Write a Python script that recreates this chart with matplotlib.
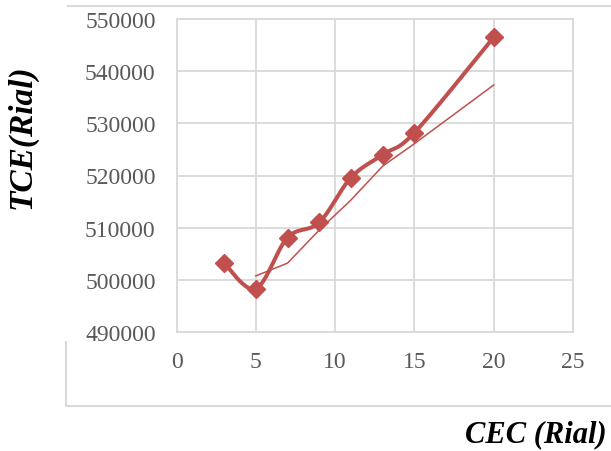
import numpy as np
import matplotlib.pyplot as plt
from matplotlib.lines import Line2D

####################################
#               Data               #
####################################

cec = [3, 5, 7, 9, 11, 13, 15, 20]
tce = [503200, 498300, 508100, 511000, 519600, 524000, 528200, 546500]

x_ticks = [0, 5, 10, 15, 20, 25]
y_ticks = [490000, 500000, 510000, 520000, 530000, 540000, 550000]

red = '#C0504D'
grid_grey = '#D9D9D9'
tick_grey = '#595959'

####################################
#             Functions            #
####################################

def smooth_curve(xs, ys, sx, sy, n=40):
    # Bezier smoothing (Catmull-Rom style) done in scaled units so the curve
    # follows the on-screen shape of the line
    p = np.column_stack([np.asarray(xs, float) * sx, np.asarray(ys, float) * sy])
    out = []
    for i in range(len(p) - 1):
        p0 = p[max(i - 1, 0)]
        p1 = p[i]
        p2 = p[i + 1]
        p3 = p[min(i + 2, len(p) - 1)]
        c1 = p1 + (p2 - p0) / 6.0
        c2 = p2 - (p3 - p1) / 6.0
        t = np.linspace(0, 1, n)[:, None]
        seg = ((1 - t) ** 3) * p1 + 3 * ((1 - t) ** 2) * t * c1 \
            + 3 * (1 - t) * t ** 2 * c2 + t ** 3 * p2
        out.append(seg if i == 0 else seg[1:])
    out = np.vstack(out)
    return out[:, 0] / sx, out[:, 1] / sy


def moving_average(ys, period=2):
    ys = np.asarray(ys, float)
    return np.convolve(ys, np.ones(period) / period, mode='valid')

####################################
#               Main               #
####################################

plt.rcParams['font.family'] = 'Liberation Serif'

fig = plt.figure(figsize=(6.11, 4.52), dpi=100, facecolor='w')
ax = fig.add_axes([176.5 / 611, 1 - 333 / 452, 396.5 / 611, 313 / 452])

# outer chart frame, only partly shown
frame = dict(color=grid_grey, lw=1.5, transform=fig.transFigure)
fig.add_artist(Line2D([68 / 611, 1], [1 - 7 / 452, 1 - 7 / 452], **frame))
fig.add_artist(Line2D([66 / 611, 66 / 611], [1 - 343 / 452, 1 - 407 / 452], **frame))
fig.add_artist(Line2D([66 / 611, 1], [1 - 407 / 452, 1 - 407 / 452], **frame))

# smoothed series with markers
sx, sy = 396.5 / 25, 313 / 60000
xs, ys = smooth_curve(cec, tce, sx, sy)
ax.plot(xs, ys, color=red, lw=2.9, solid_capstyle='round', zorder=3)
ax.plot(cec, tce, ls='none', marker='D', ms=9, color=red, zorder=4)

# 2-period moving average trendline
ma = moving_average(tce, 2)
ax.plot(cec[1:], ma, color=red, lw=1.1, zorder=2)

ax.set_xlim(0, 25)
ax.set_ylim(490000, 550000)
ax.set_xticks(x_ticks)
ax.set_yticks(y_ticks)
ax.set_xticklabels([str(v) for v in x_ticks])
ax.set_yticklabels([str(v) for v in y_ticks])
ax.grid(True, color=grid_grey, lw=1.3)
ax.set_axisbelow(True)
for s in ax.spines.values():
    s.set_color(grid_grey)
    s.set_linewidth(1.3)
ax.tick_params(length=0, labelsize=17, labelcolor=tick_grey)
ax.tick_params(axis='y', pad=15)
ax.tick_params(axis='x', pad=14)

fig.text(607 / 611, 1 - 435 / 452, 'CEC (Rial)', ha='right', va='center',
         fontsize=22, fontweight='bold', fontstyle='italic')
fig.text(22 / 611, 1 - 137 / 452, 'TCE(Rial)', ha='center', va='center',
         rotation=90, fontsize=24, fontweight='bold', fontstyle='italic')

plt.savefig('out.png', dpi=100, facecolor='w')
